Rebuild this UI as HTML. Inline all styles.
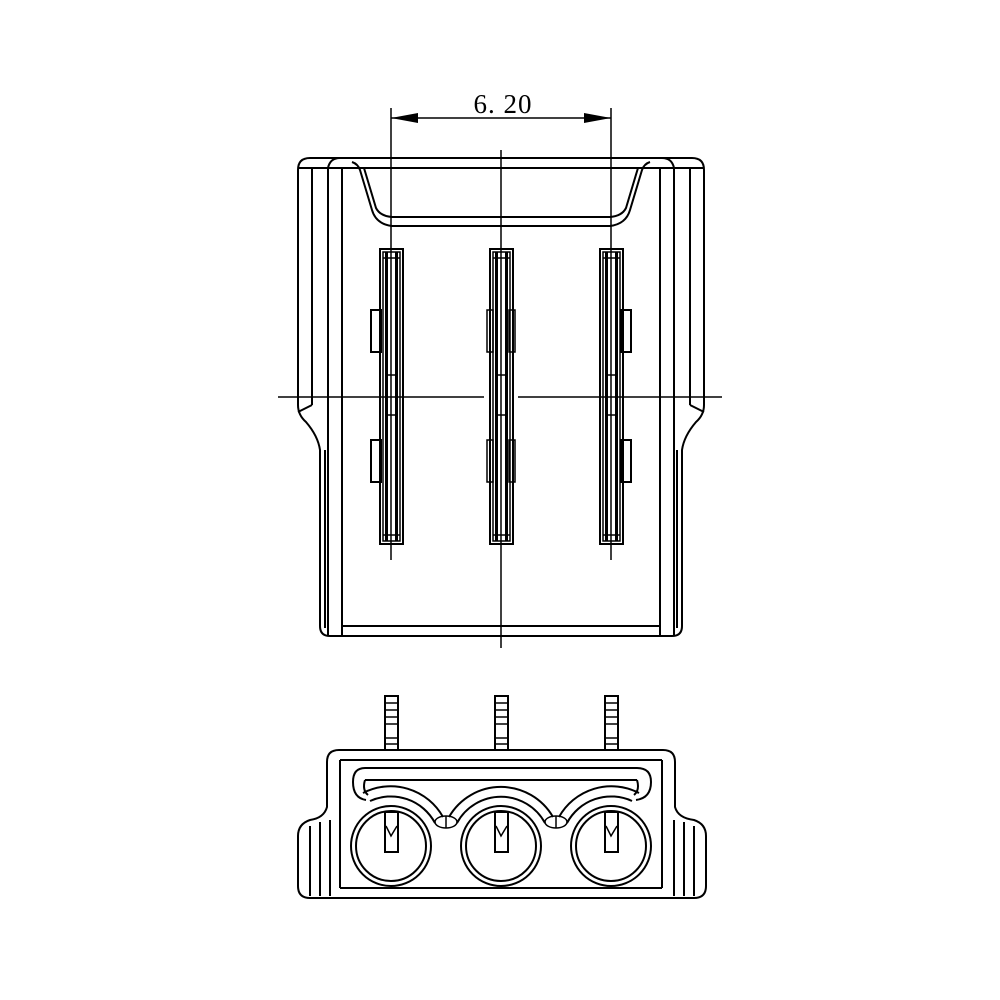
<!DOCTYPE html>
<html><head><meta charset="utf-8"><style>body{margin:0;background:#fff}svg{display:block}</style></head><body>
<svg width="1000" height="1000" viewBox="0 0 1000 1000" xmlns="http://www.w3.org/2000/svg" fill="none" stroke="#000" stroke-width="2">
<rect width="1000" height="1000" fill="#fff" stroke="none"/>
<text x="503" y="113" font-family="Liberation Serif, serif" font-size="27" fill="#000" stroke="none" text-anchor="middle" letter-spacing="1">6. 20</text>
<line x1="391" y1="118" x2="611" y2="118" stroke-width="1.5"/>
<polygon points="391,118 418,113 418,123" fill="#000" stroke="none"/>
<polygon points="611,118 584,113 584,123" fill="#000" stroke="none"/>
<line x1="391" y1="108" x2="391" y2="560" stroke-width="1.5"/>
<line x1="611" y1="108" x2="611" y2="560" stroke-width="1.5"/>
<line x1="501" y1="150" x2="501" y2="648" stroke-width="1.5"/>
<line x1="278" y1="397" x2="484" y2="397" stroke-width="1.5"/>
<line x1="518" y1="397" x2="722" y2="397" stroke-width="1.5"/>
<path d="M298,405 L298,170 Q298,158 310,158 L692,158 Q704,158 704,170 L704,405 Q704,415 696,422 Q684,436 682,450 L682,626 Q682,636 672,636 L330,636 Q320,636 320,626 L320,450 Q318,436 306,422 Q298,415 298,405 Z"/>
<line x1="298" y1="168" x2="704" y2="168"/>
<line x1="312" y1="168" x2="312" y2="405"/><line x1="690" y1="168" x2="690" y2="405"/>
<path d="M328,168 Q330,158 340,158"/><path d="M674,168 Q672,158 662,158"/>
<line x1="328" y1="168" x2="328" y2="636"/><line x1="674" y1="168" x2="674" y2="636"/>
<line x1="342" y1="168" x2="342" y2="636"/><line x1="660" y1="168" x2="660" y2="636"/>
<line x1="325" y1="450" x2="325" y2="628"/><line x1="677" y1="450" x2="677" y2="628"/>
<line x1="342" y1="626" x2="660" y2="626"/>
<path d="M312,405 L298,412"/><path d="M690,405 L704,412"/>
<path d="M352,162 Q358,164 360,170 L372,210 Q376,224 392,226 L610,226 Q626,224 630,210 L642,170 Q644,164 650,162"/>
<path d="M364,168 L376,208 Q380,216 392,217 L610,217 Q622,216 626,208 L638,168"/>
<g id="pin">
<rect x="380" y="249" width="23" height="295"/>
<rect x="383" y="252" width="17" height="289" stroke-width="1.5"/>
<line x1="386.5" y1="252" x2="386.5" y2="541" stroke-width="3"/>
<line x1="396.5" y1="252" x2="396.5" y2="541" stroke-width="3"/>
<line x1="383" y1="258" x2="400" y2="258" stroke-width="1.5"/>
<line x1="383" y1="535" x2="400" y2="535" stroke-width="1.5"/>
<rect x="387" y="375" width="9" height="40" stroke-width="1.5"/>
</g>
<use href="#pin" x="110"/><use href="#pin" x="220"/>
<rect x="371" y="310" width="10" height="42"/><rect x="371" y="440" width="10" height="42"/>
<rect x="487" y="310" width="6" height="42" stroke-width="1.5"/><rect x="509" y="310" width="6" height="42" stroke-width="1.5"/>
<rect x="487" y="440" width="6" height="42" stroke-width="1.5"/><rect x="509" y="440" width="6" height="42" stroke-width="1.5"/>
<rect x="621" y="310" width="10" height="42"/><rect x="621" y="440" width="10" height="42"/>
<path d="M327,807 L327,762 Q327,750 339,750 L663,750 Q675,750 675,762 L675,807 Q678,818 694,820 Q706,824 706,836 L706,886 Q706,898 694,898 L310,898 Q298,898 298,886 L298,836 Q298,824 310,820 Q324,818 327,807 Z"/>
<line x1="340" y1="760" x2="662" y2="760"/>
<line x1="340" y1="760" x2="340" y2="888"/><line x1="662" y1="760" x2="662" y2="888"/>
<line x1="340" y1="888" x2="662" y2="888"/>
<line x1="310" y1="826" x2="310" y2="896"/><line x1="320" y1="822" x2="320" y2="896"/><line x1="330" y1="820" x2="330" y2="896"/>
<line x1="694" y1="826" x2="694" y2="896"/><line x1="684" y1="822" x2="684" y2="896"/><line x1="674" y1="820" x2="674" y2="896"/>
<path d="M365,768 L637,768 Q651,768 651,782 Q651,798 636,800"/>
<path d="M365,768 Q353,768 353,782 Q353,798 366,800"/>
<line x1="365" y1="780" x2="637" y2="780"/>
<path d="M365,780 Q362,790 368,795"/><path d="M637,780 Q640,790 634,795"/>
<path d="M363,793 A60 60 0 0 1 443,817"/>
<path d="M370,801 A50 50 0 0 1 435,823"/>
<path d="M449,817 A60 60 0 0 1 553,817"/>
<path d="M457,823 A50 50 0 0 1 545,823"/>
<path d="M559,817 A60 60 0 0 1 639,793"/>
<path d="M567,823 A50 50 0 0 1 632,801"/>
<ellipse cx="446" cy="822" rx="11" ry="6" stroke-width="1.5"/>
<line x1="446" y1="816" x2="446" y2="828" stroke-width="1.5"/>
<ellipse cx="556" cy="822" rx="11" ry="6" stroke-width="1.5"/>
<line x1="556" y1="816" x2="556" y2="828" stroke-width="1.5"/>
<g id="hole">
<circle cx="391" cy="846" r="40" fill="#fff"/><circle cx="391" cy="846" r="35"/>
<rect x="385" y="812" width="13" height="40"/>
<path d="M386,826 L391,836 L397,826" stroke-width="1.5"/>
<rect x="385" y="696" width="13" height="54"/>
<line x1="385" y1="703" x2="398" y2="703" stroke-width="1.5"/><line x1="385" y1="710" x2="398" y2="710" stroke-width="1.5"/>
<line x1="385" y1="717" x2="398" y2="717" stroke-width="1.5"/><line x1="385" y1="724" x2="398" y2="724" stroke-width="1.5"/>
<line x1="385" y1="738" x2="398" y2="738" stroke-width="1.5"/><line x1="385" y1="744" x2="398" y2="744" stroke-width="1.5"/>
</g>
<use href="#hole" x="110"/><use href="#hole" x="220"/>
</svg>
</body></html>
